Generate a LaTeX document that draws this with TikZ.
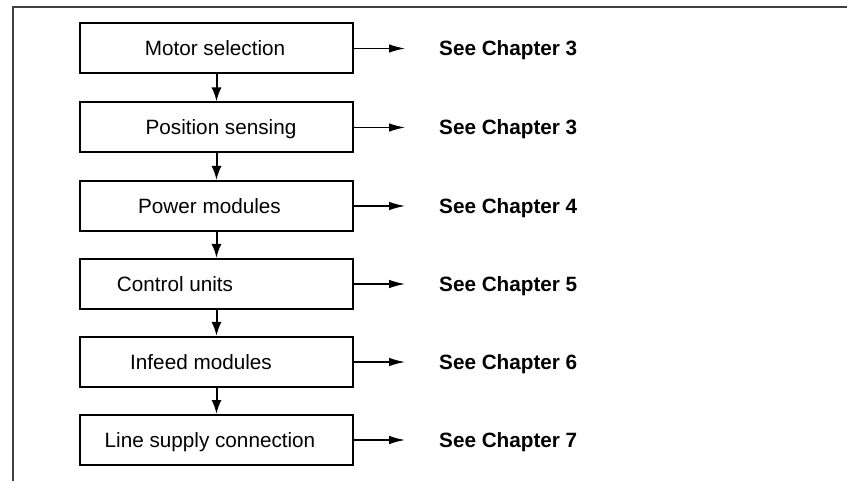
\documentclass[tikz,border=0pt]{standalone}
\usepackage{fontspec}
\setmainfont{Liberation Sans}
\usetikzlibrary{arrows.meta}
\begin{document}
\begin{tikzpicture}[x=1pt,y=-1pt,
  box/.style={draw, line width=2pt, minimum width=273pt, minimum height=50pt, inner sep=0pt},
  lbl/.style={font=\fontsize{20.7}{24}\selectfont, inner sep=0pt, anchor=base},
  ref/.style={font=\fontsize{20.7}{24}\selectfont\bfseries, inner sep=0pt, anchor=base west},
  down/.style={-{Latex[length=14pt,width=10pt]}, line width=2pt},
  side/.style={-{Latex[length=16pt,width=8.5pt]}, line width=1.2pt},
  frame/.style={line width=1.6pt, black!75}]
\useasboundingbox (0,0) rectangle (847,481);
\coordinate (fb) at (13,481);
\coordinate (fc) at (13,7);
\coordinate (fr) at (847,7);
\draw[frame] (fb) -- (fc) -- (fr);

% boxes
\node[box] (b1) at (216.5,48.5) {};
\node[box] (b2) at (216.5,127.5) {};
\node[box] (b3) at (216.5,206) {};
\node[box] (b4) at (216.5,284) {};
\node[box] (b5) at (216.5,362) {};
\node[box] (b6) at (216.5,440) {};

% box texts
\node[lbl] (t1) at (215,55.9) {Motor selection};
\node[lbl] (t2) at (221,134.9) {Position sensing};
\node[lbl] (t3) at (209.5,213.4) {Power modules};
\node[lbl] (t4) at (175,291.4) {Control units};
\node[lbl] (t5) at (201,369.4) {Infeed modules};
\node[lbl] (t6) at (210,447.4) {Line supply connection};

% vertical arrows
\draw[down] (b1.south) -- (b2.north);
\draw[down] (b2.south) -- (b3.north);
\draw[down] (b3.south) -- (b4.north);
\draw[down] (b4.south) -- (b5.north);
\draw[down] (b5.south) -- (b6.north);

% side arrows
\coordinate (e1) at (405,48.5);
\coordinate (e2) at (405,127.5);
\coordinate (e3) at (405,206);
\coordinate (e4) at (405,284);
\coordinate (e5) at (405,362);
\coordinate (e6) at (405,440);
\draw[side] (b1.east) -- (e1);
\draw[side] (b2.east) -- (e2);
\draw[side] (b3.east) -- (e3);
\draw[side] (b4.east) -- (e4);
\draw[side] (b5.east) -- (e5);
\draw[side] (b6.east) -- (e6);

% references
\node[ref] (r1) at (439,55.9) {See Chapter 3};
\node[ref] (r2) at (439,134.9) {See Chapter 3};
\node[ref] (r3) at (439,213.4) {See Chapter 4};
\node[ref] (r4) at (439,291.4) {See Chapter 5};
\node[ref] (r5) at (439,369.4) {See Chapter 6};
\node[ref] (r6) at (439,447.4) {See Chapter 7};
\end{tikzpicture}
\end{document}
